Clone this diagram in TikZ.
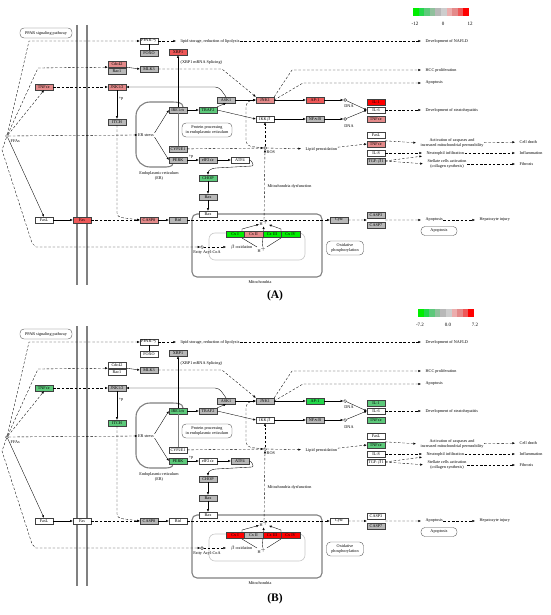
\documentclass[tikz,border=0pt]{standalone}
\usepackage{fontspec}
\setmainfont{Liberation Serif}
\usetikzlibrary{arrows.meta,calc}

\definecolor{upone}{HTML}{E48A8A}
\definecolor{uptwo}{HTML}{EE5858}
\definecolor{upthree}{HTML}{FF0000}
\definecolor{dnone}{HTML}{5CC97A}
\definecolor{dntwo}{HTML}{22D84A}
\definecolor{dnthree}{HTML}{00EE00}
\definecolor{nochg}{HTML}{B8B8B8}

\newcommand{\genefont}{\fontsize{4.2}{4.6}\selectfont}

\tikzset{
  gene/.style={draw=black!75, line width=0.35pt, minimum width=18pt, minimum height=6pt, inner sep=0pt, font=\genefont},
  cx/.style={gene, minimum width=18.5pt, minimum height=6.5pt},
  txt/.style={inner sep=0.5pt, font=\genefont, align=center},
  mapbox/.style={draw=black!70, rounded corners=4pt, line width=0.35pt, inner sep=1pt, font=\genefont, align=center},
  compound/.style={circle, draw=black, line width=0.35pt, minimum size=3pt, inner sep=0pt},
  membrane/.style={draw=black!50, line width=1.1pt},
  innermem/.style={draw=black!22, line width=0.6pt},
  sig/.style={->, line width=0.35pt},
  indirect/.style={->, line width=0.35pt, dash pattern=on 2.5pt off 1.8pt},
  outcome/.style={indirect, shorten >=4pt},
}

% one NAFLD map, top panel position
\newcommand{\nafldmap}{%
  % Membranes and compartments
  \draw[membrane] (77,25) -- (77,285);
  \draw[membrane] (87,25) -- (87,285);
  \draw[membrane] (183,107) to[out=90,in=0] (172,102) -- (150,102) to[out=180,in=90] (136,116) -- (136,153) to[out=-90,in=180] (150,167) -- (163,167) to[out=0,in=-90] (173,163);
  \draw[membrane,rounded corners=5pt] (192,214) rectangle (322,277);
  \draw[innermem,rounded corners=6pt] (209,233) rectangle (305,260);
  %
  % Map links and compounds
  \node[mapbox,minimum width=52pt,minimum height=10pt] (pparmap) at (46,33) {PPAR signaling pathway};
  \node[mapbox,minimum width=50pt,minimum height=14pt] (protproc) at (207,130) {Protein processing\\in endoplasmic reticulum};
  \node[mapbox,minimum width=37pt,minimum height=14pt] (oxphos) at (345,248) {Oxidative\\phosphorylation};
  \node[mapbox,minimum width=36pt,minimum height=9pt] (apopmap) at (439,231) {Apoptosis};
  \node[compound] (ffa) at (7,136) {};
  \node[txt,anchor=west] (ffalab) at (10,141) {FFAs};
  \node[compound] (ros) at (265,148) {};
  \node[txt,anchor=north west] (roslab) at (266,150) {ROS};
  \node[compound] (dna1) at (345,100) {};
  \node[txt] (dnalab1) at (349,106) {DNA};
  \node[compound] (dna2) at (345,119) {};
  \node[txt] (dnalab2) at (349,126) {DNA};
  \node[compound] (facoa) at (202,247) {};
  \node[txt] (facoalab) at (207,252) {Fatty Acyl-CoA};
  %
  % Respiratory chain
  \node[txt] (hup) at (264,223) {H$^+$};
  \node[txt] (hdown) at (262,250) {H$^+$};
  \draw[sig] (hdown) -- (242,238) -- (242,229) -- (hup);
  \draw[sig] (hdown) -- (281,238) -- (281,229) -- (hup);
  \draw[sig] (hdown) -- (hup);
  \node[cx,fill=c-cxa] (cx1) at (235,234) {Cx I};
  \node[cx,fill=c-cxb] (cx2) at (253.5,234) {Cx II};
  \node[cx,fill=c-cxc] (cx3) at (272,234) {Cx III};
  \node[cx,fill=c-cxd] (cx4) at (290.5,234) {Cx IV};
  %
  % Genes
  \node[gene,fill=c-pparg] (pparg) at (149,41) {PPAR-$\gamma$};
  \node[gene,fill=c-foxo] (foxo) at (149,53) {FOXO};
  \node[gene,fill=c-xbp] (xbp1) at (178,52) {XBP1};
  \node[gene,fill=c-cdc] (cdc42) at (117,64) {Cdc42};
  \node[gene,fill=c-rac] (rac1) at (117,71) {Rac1};
  \node[gene,fill=c-mlk] (mlk3) at (149,69) {MLK3};
  \node[gene,fill=c-tnfl] (tnfa) at (44,87) {TNF$\alpha$};
  \node[gene,fill=c-jnkb] (jnk12) at (117,87) {JNK1/2};
  \node[gene,fill=c-ask] (ask1) at (226,100) {ASK1};
  \node[gene,fill=c-jnk] (jnk1) at (265,100) {JNK1};
  \node[gene,fill=c-itch] (itch) at (117,122) {ITCH};
  \node[gene,fill=c-ire] (ire1a) at (178,110) {IRE1$\alpha$};
  \node[gene,fill=c-traf] (traf2) at (208,110) {TRAF2};
  \node[gene,fill=c-ikk] (ikkb) at (265,119) {IKK$\beta$};
  \node[gene,fill=c-cyp] (cyp2e1) at (178,149) {CYP2E1};
  \node[gene,fill=c-perk] (perk) at (178,160) {PERK};
  \node[gene,fill=c-eif] (eif2a) at (208,160) {eIF2$\alpha$};
  \node[gene,fill=c-atf] (atf4) at (240,160) {ATF4};
  \node[gene,fill=c-chop] (chop) at (208,178) {CHOP};
  \node[gene,fill=c-bax] (bax) at (208,197) {Bax};
  \node[gene,fill=c-baxm] (baxm) at (208,214) {Bax};
  \node[gene,fill=c-fasl] (fasl) at (44,220) {FasL};
  \node[gene,fill=c-fas] (fas) at (82,220) {Fas};
  \node[gene,fill=c-casp] (casp8) at (149,220) {CASP8};
  \node[gene,fill=c-bid] (bid) at (178,220) {Bid};
  \node[gene,fill=c-ap] (ap1) at (315,100) {AP-1};
  \node[gene,fill=c-nfkb] (nfkb) at (315,119) {NF$\kappa$B};
  \node[gene,fill=c-ila] (il1) at (376,102) {IL-1};
  \node[gene,fill=c-ilb] (il6) at (376,110) {IL-6};
  \node[gene,fill=c-tnfr] (tnfb) at (376,119) {TNF$\alpha$};
  \node[gene,fill=c-fasr] (faslr) at (376,135) {FasL};
  \node[gene,fill=c-tnfs] (tnfc) at (376,144) {TNF$\alpha$};
  \node[gene,fill=c-ilc] (il8) at (376,153) {IL-8};
  \node[gene,fill=c-tgf] (tgfb1) at (376,161) {TGF-$\beta$1};
  \node[gene,fill=c-cyt] (cytc) at (339,220) {Cytc};
  \node[gene,fill=c-cthree] (casp3) at (376,215) {CASP3};
  \node[gene,fill=c-cseven] (casp7) at (376,225) {CASP7};
  \coordinate (caspin) at ($(casp3.south west)!.5!(casp7.north west)$);
  \coordinate (caspout) at ($(casp3.south east)!.5!(casp7.north east)$);
  %
  % Texts
  \node[txt,anchor=west] (lipidstor) at (180,41) {lipid storage, reduction of lipolysis};
  \node[txt,anchor=west] (splice) at (180,62) {(XBP1 mRNA Splicing)};
  \node[txt] (p1) at (121,99) {+p};
  \node[txt] (p2) at (191,157) {+p};
  \node[txt] (erstress) at (146,135) {ER stress};
  \node[txt] (erlab) at (159,176) {Endoplasmic reticulum\\(ER)};
  \node[txt,anchor=west] (mitodys) at (267,186) {Mitochondria dysfunction};
  \node[txt,anchor=west] (lipid) at (305,149) {Lipid peroxidation};
  \node[txt,anchor=west] (boxid) at (230,247) {$\beta$-oxidation};
  \node[txt] (mitolab) at (260,282) {Mitochondria};
  \node[txt,anchor=west] (nafld) at (425,41) {Development of NAFLD};
  \node[txt,anchor=west] (hcc) at (425,70) {HCC proliferation};
  \node[txt,anchor=west] (apop1) at (425,83) {Apoptosis};
  \node[txt,anchor=west] (steato) at (425,110) {Development of steatohepatitis};
  \node[txt] (casact) at (452,143) {Activation of caspases and\\increased mitochondrial permeability};
  \node[txt,anchor=west] (neutro) at (426,153) {Neutrophil infiltration};
  \node[txt] (stell) at (447,164) {Stellate cells activation\\(collagen synthesis)};
  \node[txt,anchor=west] (celldeath) at (519,142) {Cell death};
  \node[txt,anchor=west] (inflam) at (519,153) {Inflammation};
  \node[txt,anchor=west] (fibro) at (519,164) {Fibrosis};
  \node[txt,anchor=west] (apop2) at (425,220) {Apoptosis};
  \node[txt,anchor=west] (hepinj) at (479,220) {Hepatocyte injury};
  %
  % FFAs
  \draw[indirect] (ffa) -- (29,41) -- (pparg.west);
  \draw[indirect] (ffa) -- (38,68) -- (cdc42.south west);
  \draw[indirect] (ffa) -- (tnfa.south);
  \draw[indirect] (ffa) -- (erstress.west);
  \draw[sig] (ffa) -- (fasl.north);
  \draw[indirect] (ffa) -- (2,150) -- (32,243) -- (36,247) -- (facoa);
  \draw[outcome] (facoa) -- (boxid);
  %
  % PPAR
  \draw[line width=0.35pt] (pparg) -- (foxo);
  \draw[outcome] (pparg) -- (lipidstor);
  \draw[outcome] (lipidstor) -- (nafld);
  %
  % JNK signalling
  \draw[sig] (cdc42.south east) -- (mlk3.west);
  \draw[indirect] (mlk3) -- (222,69) -- (jnk1.north west);
  \draw[outcome] (jnk1.north east) -- (292,70) -- (hcc);
  \draw[outcome] (jnk1.east) -- (303,83) -- (apop1);
  \draw[indirect] (tnfa) -- (jnk12);
  \draw[sig,rounded corners=4pt] (ask1.north) -- (219,87) -- (jnk12.east);
  \draw[sig] (jnk12) -- (itch);
  \draw[indirect,rounded corners=4pt] (itch) -- (117,217) -- (casp8.west);
  \draw[sig] (ask1) -- (jnk1);
  %
  % ER stress
  \draw[sig] (erstress.north east) -- (ire1a.west);
  \draw[sig] (erstress.south east) -- (perk.west);
  \draw[sig] (ire1a) -- (xbp1);
  \draw[draw=black!50, line width=0.6pt] (ire1a) -- (cyp2e1);
  \draw[sig] (ire1a) -- (traf2);
  \draw[sig] (traf2.north east) -- (ask1.south);
  \draw[sig] (traf2.east) -- (ikkb.west);
  \draw[sig] (perk) -- (eif2a);
  \draw[sig] (eif2a) -- (atf4);
  \draw[sig] (atf4.east) to[out=0,in=0] (252,166) -- (216,168) to[out=180,in=90] (chop.north);
  \draw[sig] (chop) -- (bax);
  \draw[sig] (bax) -- (baxm);
  %
  % ROS
  \draw[indirect] (cyp2e1) -- (ros);
  \draw[indirect] (ros) -- (ikkb);
  \draw[indirect,rounded corners=5pt] (ros) -- (246,146) -- (246,101) -- (jnk1.west);
  \draw[outcome] (ros) -- (lipid);
  \draw[indirect] (lipid) -- (tnfc.west);
  \draw[indirect] (hup) -- (ros);
  %
  % Transcription
  \draw[sig] (jnk1) -- (ap1);
  \draw[sig] (ap1) -- (dna1);
  \draw[sig] (dna1) -- (il6.west);
  \draw[sig] (ikkb) -- (nfkb);
  \draw[sig] (nfkb) -- (dna2);
  \draw[sig] (dna2) -- (il6.west);
  \draw[outcome] (il6) -- (steato);
  \draw[outcome] (tnfc.north east) -- (casact.west);
  \draw[outcome] (casact) -- (celldeath);
  \draw[outcome] (il8) -- (neutro);
  \draw[outcome] (tgfb1.east) -- (neutro.south west);
  \draw[outcome] (tgfb1.east) -- (stell.west);
  \draw[outcome] (neutro) -- (inflam);
  \draw[outcome] (stell) -- (fibro);
  %
  % Apoptosis
  \draw[sig] (fasl) -- (fas);
  \draw[indirect] (fas) -- (casp8);
  \draw[sig] (casp8) -- (bid);
  \draw[indirect] (bid) -- (cytc);
  \draw[indirect] (cytc) -- (caspin);
  \draw[outcome] (caspout) -- (apop2);
  \draw[outcome] (apop2) -- (hepinj);
}

\begin{document}
\begin{tikzpicture}[x=1pt,y=-1pt,>={Latex[length=2.6pt,width=2.2pt]}]
\useasboundingbox (0,0) rectangle (550,615);

% Panel A
\foreach \g/\c in {pparg/white, foxo/nochg, xbp/uptwo, cdc/upone, rac/nochg, mlk/nochg, tnfl/upone, jnkb/upone, ask/nochg, jnk/upone, itch/nochg, ire/nochg, traf/dnone, ikk/white, cyp/nochg, perk/nochg, eif/nochg, atf/white, chop/dnone, bax/nochg, baxm/white, fasl/white, fas/uptwo, casp/upone, bid/nochg, cxa/dnthree, cxb/upone, cxc/dnthree, cxd/dnthree, ap/uptwo, nfkb/nochg, ila/upthree, ilb/white, tnfr/upone, fasr/white, tnfs/upone, ilc/white, tgf/nochg, cyt/nochg, cthree/nochg, cseven/nochg}
  {\xglobal\colorlet{c-\g}{\c}}
\begin{scope}[name prefix=a-]
  \nafldmap
\end{scope}
\foreach \c [count=\i from 0] in {dnthree, dntwo, dnone, dnone!45!nochg, nochg, nochg!70!white, upone!70!white, upone, uptwo, upthree}
  \fill[\c] (413+5.6*\i,8) rectangle ++(5.6,8);
\node[txt] (lgA-lo) at (415,24) {\fontsize{5}{6}\selectfont -12};
\node[txt] (lgA-mid) at (443,24) {\fontsize{5}{6}\selectfont 0};
\node[txt] (lgA-hi) at (470,24) {\fontsize{5}{6}\selectfont 12};
\node[font=\fontsize{11.5}{12}\selectfont\bfseries] (labA) at (275,296) {(A)};

% Panel B
\foreach \g/\c in {pparg/white, foxo/white, xbp/nochg, cdc/white, rac/white, mlk/nochg, tnfl/dnone, jnkb/nochg, ask/nochg, jnk/nochg, itch/dnone, ire/dnone, traf/nochg, ikk/white, cyp/white, perk/dnone, eif/white, atf/nochg, chop/nochg, bax/nochg, baxm/white, fasl/white, fas/white, casp/nochg, bid/white, cxa/upthree, cxb/nochg, cxc/upthree, cxd/upthree, ap/dntwo, nfkb/nochg, ila/dnone, ilb/white, tnfr/dnone, fasr/white, tnfs/dnone, ilc/white, tgf/white, cyt/white, cthree/white, cseven/nochg}
  {\xglobal\colorlet{c-\g}{\c}}
\begin{scope}[shift={(0,301)},name prefix=b-]
  \nafldmap
\end{scope}
\foreach \c [count=\i from 0] in {dnthree, dntwo, dnone, dnone!45!nochg, nochg, nochg!70!white, upone!70!white, upone, uptwo, upthree}
  \fill[\c] (418+5.6*\i,309) rectangle ++(5.6,8);
\node[txt] (lgB-lo) at (420,325) {\fontsize{5}{6}\selectfont -7.2};
\node[txt] (lgB-mid) at (448,325) {\fontsize{5}{6}\selectfont 0.0};
\node[txt] (lgB-hi) at (475,325) {\fontsize{5}{6}\selectfont 7.2};
\node[font=\fontsize{11.5}{12}\selectfont\bfseries] (labB) at (275,599) {(B)};
\end{tikzpicture}
\end{document}
